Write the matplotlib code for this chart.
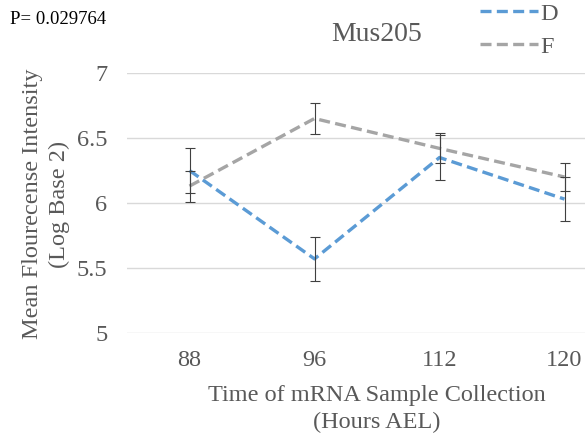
import matplotlib
matplotlib.use("Agg")
import matplotlib.pyplot as plt
from matplotlib.ticker import FormatStrFormatter

# Mean log2 fluorescence per collection time, with standard errors
hours = ["88", "96", "112", "120"]
d_mean = [6.25, 5.57, 6.35, 6.03]
d_err = [0.175, 0.17, 0.17, 0.17]
f_mean = [6.13, 6.65, 6.42, 6.20]
f_err = [0.12, 0.12, 0.115, 0.11]
p_value = "0.029764"

C_D = "#5B9BD5"
C_F = "#A5A5A5"
C_TXT = "#595959"
C_GRID = "#D9D9D9"

plt.rcParams["font.family"] = ["Liberation Serif", "DejaVu Serif"]

W, H = 585, 438
fig = plt.figure(figsize=(W / 100, H / 100), dpi=100)
# plot area runs past the right edge of the canvas
ax = fig.add_axes([127 / W, (H - 333) / H, 500 / W, 260 / H])

x = list(range(len(hours)))
dash = (0, (3.3, 1.6))
for mean, err, col, lab in [(d_mean, d_err, C_D, "D"), (f_mean, f_err, C_F, "F")]:
    ax.plot(x, mean, color=col, lw=2.4, linestyle=dash, label=lab, zorder=3,
            dash_capstyle="butt")
    ax.errorbar(x, mean, yerr=err, fmt="none", ecolor="#404040", elinewidth=0.8,
                capsize=3.8, capthick=0.8, zorder=4)

ax.set_xlim(-0.5, len(hours) - 0.5)
ax.set_ylim(5, 7)
ax.set_yticks([5, 5.5, 6, 6.5, 7])
ax.yaxis.set_major_formatter(FormatStrFormatter("%g"))
ax.set_xticks(x)
ax.set_xticklabels(hours)
ax.grid(axis="y", color=C_GRID, lw=1.0)
ax.set_axisbelow(True)
for s in ax.spines.values():
    s.set_visible(False)
ax.tick_params(length=0, labelsize=17.5, labelcolor=C_TXT)
ax.tick_params(axis="y", pad=14)
ax.tick_params(axis="x", pad=12)

ax.set_title("Mus205", fontsize=20, color=C_TXT, pad=23)
# axis titles placed in figure pixels (centre of the full plot area)
fig.text(377 / W, (H - 409) / H, "Time of mRNA Sample Collection\n(Hours AEL)",
         ha="center", va="center", fontsize=17.5, color=C_TXT, linespacing=1.4)
fig.text(46 / W, (H - 204) / H, "Mean Flourecense Intensity\n(Log Base 2)",
         rotation=90, ha="center", va="center", fontsize=17.5, color=C_TXT,
         linespacing=1.35)
fig.text(10 / W, (H - 19) / H, f"P= {p_value}", ha="left", va="center",
         fontsize=13.5, color="black")

leg = ax.legend(loc="upper left", bbox_to_anchor=(475 / W, 1 + 2 / H),
                bbox_transform=fig.transFigure, frameon=False, fontsize=17.5,
                handlelength=2.4, handletextpad=0.1, labelspacing=0.45,
                borderaxespad=0, borderpad=0.2)
for t in leg.get_texts():
    t.set_color(C_TXT)

fig.savefig("out.png", dpi=100)
